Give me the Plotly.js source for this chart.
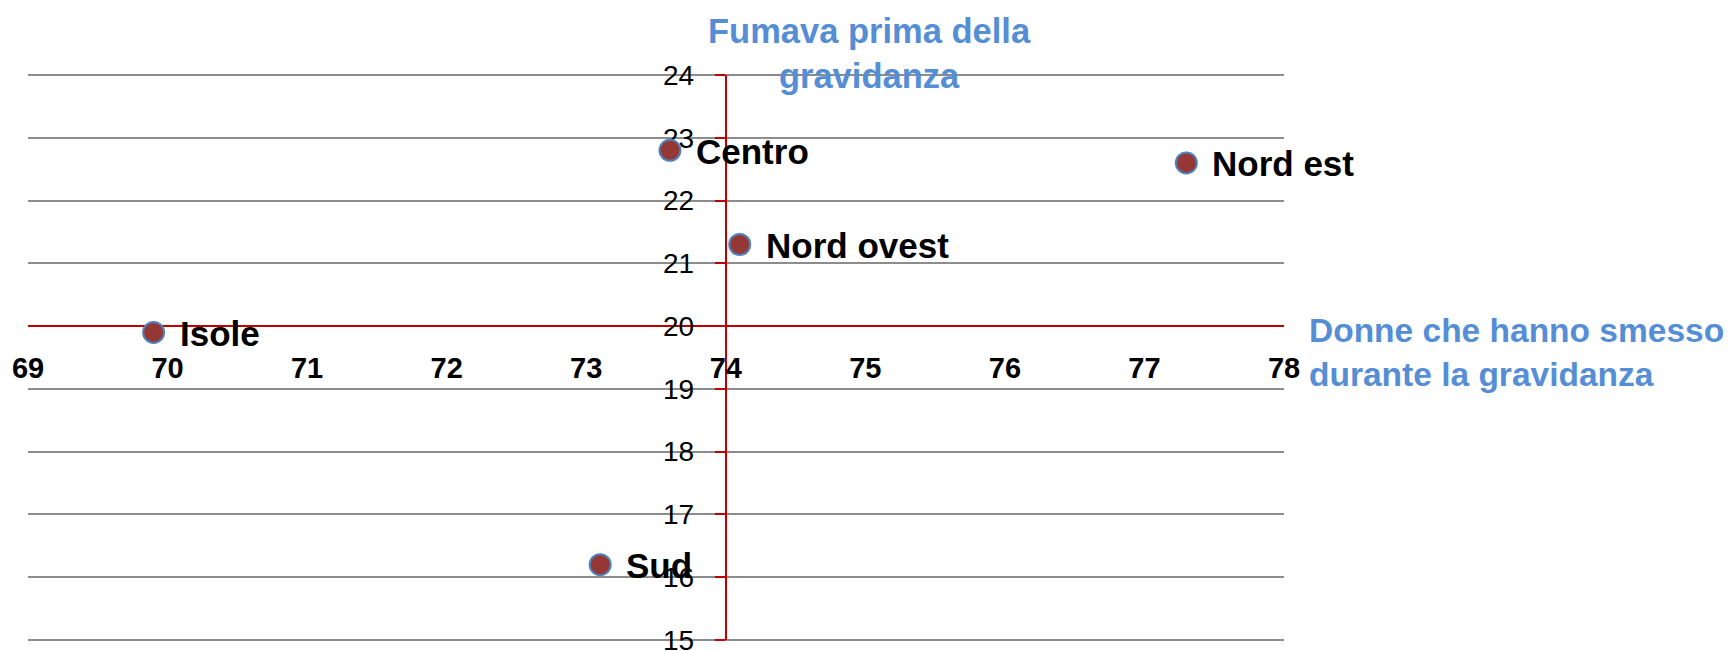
<!DOCTYPE html>
<html>
<head>
<meta charset="utf-8">
<script src="https://cdn.plot.ly/plotly-3.0.1.min.js"></script>
<style>
  html, body { margin: 0; padding: 0; background: #ffffff; }
  #chart { width: 1736px; height: 651px; }
</style>
</head>
<body>
<div id="chart"></div>
<script>
// Data
const regions = ['Nord ovest', 'Nord est', 'Centro', 'Sud', 'Isole'];
const smessoGravidanza = [74.1, 77.3, 73.6, 73.1, 69.9];   // x: Donne che hanno smesso durante la gravidanza
const fumavaPrima = [21.3, 22.6, 22.8, 16.2, 19.9];        // y: Fumava prima della gravidanza

const xTicks = [69, 70, 71, 72, 73, 74, 75, 76, 77, 78];
const yTicks = [15, 16, 17, 18, 19, 20, 21, 22, 23, 24];
const xRange = [69, 78];
const yRange = [15, 24];
const crossX = 74;   // where the vertical axis crosses
const crossY = 20;   // where the horizontal axis crosses

const xTitle = 'Donne che hanno smesso<br>durante la gravidanza';
const yTitle = 'Fumava prima della<br>gravidanza';

const FONT = '"Liberation Sans", Arial, sans-serif';
const RED = '#C00000';
const BLUE = '#558ED5';
const GRID = '#8C8C8C';

const trace = {
  type: 'scatter',
  mode: 'markers',
  x: smessoGravidanza,
  y: fumavaPrima,
  cliponaxis: false,
  marker: {
    symbol: 'circle',
    size: 21,
    color: '#953735',
    line: { color: '#4F81BD', width: 2 }
  },
  hoverinfo: 'skip'
};

// Data labels, placed through the data scales
const labelAnnotations = regions.map((name, i) => ({
  text: name,
  xref: 'x', yref: 'y',
  x: smessoGravidanza[i], y: fumavaPrima[i],
  xanchor: 'left', yanchor: 'middle',
  xshift: 24, yshift: -1,
  showarrow: false,
  font: { family: FONT, size: 35, color: '#000000', weight: 'bold' }
}));

// Edge gridlines at the bottom and top of the plot area (Plotly omits them)
const edgeGrid = [0, 1].map(v => ({
  type: 'line', xref: 'paper', yref: 'paper', layer: 'below',
  x0: 0, x1: 1, y0: v, y1: v,
  line: { color: GRID, width: 2 }
}));

const layout = {
  width: 1736,
  height: 651,
  margin: { l: 28, r: 452, t: 75, b: 11, pad: 0 },
  paper_bgcolor: '#ffffff',
  plot_bgcolor: '#ffffff',
  showlegend: false,
  hovermode: false,
  xaxis: {
    range: xRange,
    tickmode: 'array',
    tickvals: xTicks,
    ticktext: xTicks.map(String),
    anchor: 'free',
    position: (crossY - yRange[0]) / (yRange[1] - yRange[0]),
    showline: true,
    linecolor: RED,
    linewidth: 2,
    showgrid: false,
    zeroline: false,
    ticks: 'outside',
    ticklen: 16,
    tickcolor: 'rgba(0,0,0,0)',
    ticklabeloverflow: 'allow',
    tickfont: { family: FONT, size: 29, color: '#000000', weight: 'bold' },
    layer: 'below traces'
  },
  yaxis: {
    range: yRange,
    tickmode: 'array',
    tickvals: yTicks,
    ticktext: yTicks.map(String),
    anchor: 'free',
    position: (crossX - xRange[0]) / (xRange[1] - xRange[0]),
    showline: true,
    linecolor: RED,
    linewidth: 2,
    showgrid: true,
    gridcolor: GRID,
    gridwidth: 2,
    zeroline: false,
    ticks: 'outside',
    ticklen: 10,
    tickwidth: 2,
    tickcolor: RED,
    ticklabelstandoff: 15,
    ticklabeloverflow: 'allow',
    tickfont: { family: FONT, size: 28, color: '#000000' },
    layer: 'below traces'
  },
  shapes: edgeGrid,
  annotations: [
    {
      text: yTitle,
      xref: 'paper', yref: 'paper',
      x: 0.6697, y: 1,
      xanchor: 'center', yanchor: 'middle',
      yshift: 22,
      align: 'center',
      showarrow: false,
      font: { family: FONT, size: 34.5, color: BLUE, weight: 'bold' }
    },
    {
      text: xTitle,
      xref: 'paper', yref: 'y',
      x: 1, y: crossY,
      xanchor: 'left', yanchor: 'middle',
      xshift: 23, yshift: -26,
      align: 'left',
      showarrow: false,
      font: { family: FONT, size: 33.5, color: BLUE, weight: 'bold' }
    }
  ].concat(labelAnnotations)
};

Plotly.newPlot('chart', [trace], layout, { staticPlot: true, displayModeBar: false });
</script>
</body>
</html>
